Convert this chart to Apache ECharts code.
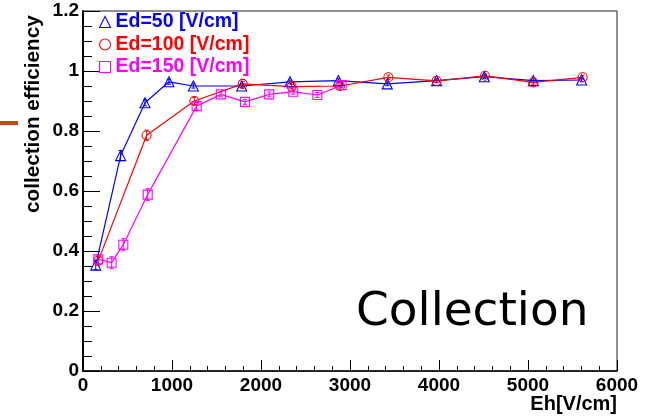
<!DOCTYPE html>
<html>
<head>
<meta charset="utf-8">
<script src="https://cdn.jsdelivr.net/npm/echarts@6/dist/echarts.min.js"></script>
<style>
html,body{margin:0;padding:0;background:#fff;}
#c{width:650px;height:417px;}
</style>
</head>
<body>
<div id="c"></div>
<script>
// Data
const seriesNames = ['Ed=50 [V/cm]', 'Ed=100 [V/cm]', 'Ed=150 [V/cm]'];

const ed50X = [143, 423, 697, 966, 1240, 1783, 2326, 2869, 3419, 3973, 4509, 5060, 5603];
const ed50Y = [0.353, 0.718, 0.894, 0.964, 0.950, 0.950, 0.964, 0.968, 0.957, 0.968, 0.981, 0.968, 0.970];
const ed50Err = [0.015, 0.017, 0.010, 0.008, 0.007, 0.006, 0.006, 0.006, 0.006, 0.006, 0.006, 0.006, 0.006];

const ed100X = [172, 715, 1251, 1794, 2345, 2888, 3431, 3973, 4517, 5060, 5614];
const ed100Y = [0.368, 0.786, 0.900, 0.957, 0.948, 0.950, 0.979, 0.967, 0.984, 0.962, 0.979];
const ed100Err = [0.015, 0.017, 0.012, 0.008, 0.007, 0.007, 0.007, 0.006, 0.006, 0.006, 0.006];

const ed150X = [172, 322, 453, 727, 1277, 1549, 1820, 2092, 2363, 2633, 2906];
const ed150Y = [0.372, 0.361, 0.421, 0.588, 0.883, 0.922, 0.897, 0.922, 0.931, 0.920, 0.953];
const ed150Err = [0.015, 0.020, 0.020, 0.020, 0.012, 0.008, 0.008, 0.008, 0.008, 0.008, 0.008];

const xTicks = [0, 1000, 2000, 3000, 4000, 5000, 6000];
const yTicks = [0, 0.2, 0.4, 0.6, 0.8, 1, 1.2];

const colors = ['#0000ff', '#ff0000', '#ff00ff'];
const symbols = ['triangle', 'circle', 'rect'];

const xs = [ed50X, ed100X, ed150X];
const ys = [ed50Y, ed100Y, ed150Y];
const es = [ed50Err, ed100Err, ed150Err];

const chart = echarts.init(document.getElementById('c'), null, {renderer: 'canvas'});

const series = [];
for (let k = 0; k < 3; k++) {
  const pts = xs[k].map((x, i) => [x, ys[k][i]]);
  const errPts = xs[k].map((x, i) => [x, ys[k][i], es[k][i]]);
  series.push({
    type: 'custom',
    name: seriesNames[k] + ' err',
    data: errPts,
    z: 3,
    silent: true,
    renderItem: function (params, api) {
      const x = api.value(0), y = api.value(1), e = api.value(2);
      const lo = api.coord([x, y - e]);
      const hi = api.coord([x, y + e]);
      return {
        type: 'group',
        children: [
          {type: 'line', shape: {x1: lo[0], y1: lo[1], x2: hi[0], y2: hi[1]}, style: {stroke: colors[k], lineWidth: 1}},
          {type: 'line', shape: {x1: lo[0] - 2, y1: lo[1], x2: lo[0] + 2, y2: lo[1]}, style: {stroke: colors[k], lineWidth: 1}},
          {type: 'line', shape: {x1: hi[0] - 2, y1: hi[1], x2: hi[0] + 2, y2: hi[1]}, style: {stroke: colors[k], lineWidth: 1}}
        ]
      };
    }
  });
  series.push({
    type: 'line',
    name: seriesNames[k],
    data: pts,
    z: 4,
    symbol: symbols[k],
    symbolSize: k === 0 ? 10 : 9,
    showAllSymbol: true,
    lineStyle: {color: colors[k], width: 1.2},
    itemStyle: {color: 'rgba(255,255,255,0)', borderColor: colors[k], borderWidth: 1.1},
    emphasis: {disabled: true},
    animation: false
  });
}

const option = {
  animation: false,
  grid: {left: 83, right: 33, top: 11, bottom: 46, show: true, borderColor: '#222', borderWidth: 1, backgroundColor: 'transparent'},
  legend: {
    orient: 'vertical',
    left: 99,
    top: 12,
    padding: 0,
    itemGap: 2.5,
    itemWidth: 11,
    itemHeight: 11,
    data: seriesNames.map((n, k) => ({
      name: n,
      icon: k === 0 ? 'triangle' : (k === 1 ? 'circle' : 'rect'),
      itemStyle: {color: 'rgba(255,255,255,0)', borderColor: colors[k], borderWidth: 1.1},
      textStyle: {color: colors[k]}
    })),
    textStyle: {fontFamily: 'Liberation Sans', fontWeight: 'bold', fontSize: 19.5, lineHeight: 18}
  },
  xAxis: {
    type: 'value', min: 0, max: 6000, interval: 1000,
    axisLine: {show: true, onZero: false, lineStyle: {color: '#000', width: 1.5}},
    axisTick: {show: true, inside: true, length: 11, lineStyle: {color: '#000', width: 1}},
    minorTick: {show: true, splitNumber: 5, length: 5, lineStyle: {color: '#000', width: 1}},
    splitLine: {show: false},
    axisLabel: {
      color: '#000', fontFamily: 'Liberation Sans', fontWeight: 'bold', fontSize: 19, margin: 5,
      formatter: v => (xTicks.indexOf(v) >= 0 ? String(v) : '')
    }
  },
  yAxis: {
    type: 'value', min: 0, max: 1.2, interval: 0.2,
    axisLine: {show: true, onZero: false, lineStyle: {color: '#000', width: 2}},
    axisTick: {show: true, inside: true, length: 17, lineStyle: {color: '#000', width: 1}},
    minorTick: {show: true, splitNumber: 4, length: 9, lineStyle: {color: '#000', width: 1}},
    splitLine: {show: false},
    axisLabel: {
      color: '#000', fontFamily: 'Liberation Sans', fontWeight: 'bold', fontSize: 19, margin: 4,
      formatter: v => {
        const r = Math.round(v * 10) / 10;
        return yTicks.indexOf(r) >= 0 ? String(r) : '';
      }
    }
  },
  graphic: [
    {type: 'text', left: 356, top: 289, style: {text: 'Collection', font: 'normal 47px "DejaVu Sans"', fill: '#000'}},
    {type: 'text', right: 33, top: 394, style: {text: 'Eh[V/cm]', font: 'bold 20px "Liberation Sans"', fill: '#000'}},
    {type: 'text', x: 23, y: 213, rotation: Math.PI / 2, style: {text: 'collection efficiency', font: 'bold 20.7px "Liberation Sans"', fill: '#000', textAlign: 'left', textVerticalAlign: 'top'}},
    {type: 'rect', shape: {x: 0, y: 121, width: 18, height: 4}, style: {fill: '#cc4411'}}
  ],
  series: series
};
chart.setOption(option);
</script>
</body>
</html>
